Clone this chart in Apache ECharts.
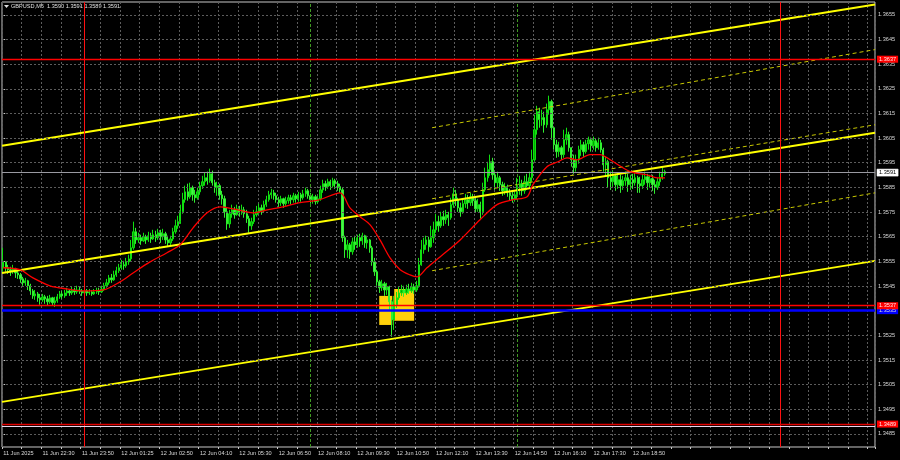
<!DOCTYPE html>
<html><head><meta charset="utf-8">
<script src="https://cdn.jsdelivr.net/npm/echarts@6/dist/echarts.min.js"></script>
<style>html,body{margin:0;padding:0;background:#000}#c{width:900px;height:460px}</style>
</head><body><div id="c"></div>
<script>
// ---------- data ----------
const barCount = 355;
const firstOpen = 1.35524;
const closes = [
1.35548,1.35524,1.35516,1.35508,1.35520,1.35503,1.35495,1.35479,1.35463,1.35471,
1.35451,1.35430,1.35410,1.35418,1.35402,1.35394,1.35406,1.35398,1.35386,1.35402,
1.35382,1.35390,1.35406,1.35418,1.35410,1.35422,1.35430,1.35422,1.35434,1.35426,
1.35434,1.35430,1.35422,1.35430,1.35422,1.35426,1.35418,1.35426,1.35430,1.35426,
1.35438,1.35451,1.35463,1.35483,1.35475,1.35495,1.35512,1.35524,1.35536,1.35532,
1.35548,1.35560,1.35605,1.35670,1.35637,1.35646,1.35633,1.35650,1.35637,1.35654,
1.35641,1.35658,1.35646,1.35666,1.35650,1.35662,1.35637,1.35625,1.35641,1.35670,
1.35694,1.35711,1.35751,1.35800,1.35832,1.35812,1.35849,1.35820,1.35808,1.35832,
1.35857,1.35873,1.35889,1.35877,1.35905,1.35869,1.35849,1.35857,1.35820,1.35804,
1.35751,1.35702,1.35743,1.35759,1.35739,1.35763,1.35747,1.35759,1.35743,1.35723,
1.35694,1.35711,1.35739,1.35751,1.35767,1.35755,1.35780,1.35800,1.35820,1.35828,
1.35816,1.35800,1.35788,1.35804,1.35784,1.35796,1.35808,1.35800,1.35816,1.35804,
1.35820,1.35808,1.35824,1.35836,1.35816,1.35800,1.35812,1.35792,1.35804,1.35840,
1.35865,1.35853,1.35873,1.35857,1.35877,1.35865,1.35853,1.35840,1.35646,1.35597,
1.35617,1.35589,1.35629,1.35617,1.35646,1.35633,1.35654,1.35625,1.35637,1.35605,
1.35548,1.35508,1.35467,1.35443,1.35459,1.35434,1.35447,1.35386,1.35313,1.35374,
1.35402,1.35422,1.35434,1.35422,1.35438,1.35430,1.35447,1.35434,1.35451,1.35536,
1.35597,1.35617,1.35637,1.35609,1.35646,1.35678,1.35711,1.35694,1.35731,1.35719,
1.35739,1.35727,1.35780,1.35824,1.35800,1.35767,1.35751,1.35784,1.35800,1.35788,
1.35812,1.35796,1.35763,1.35780,1.35751,1.35840,1.35889,1.35922,1.35954,1.35901,
1.35869,1.35889,1.35861,1.35836,1.35853,1.35828,1.35816,1.35800,1.35820,1.35849,
1.35865,1.35836,1.35873,1.35857,1.35889,1.35962,1.36084,1.36157,1.36125,1.36133,
1.36104,1.36165,1.36198,1.36092,1.36023,1.35995,1.36011,1.35983,1.36043,1.36064,
1.36011,1.35962,1.35930,1.35962,1.36003,1.36023,1.35995,1.36027,1.36043,1.36019,
1.36039,1.36011,1.36031,1.36003,1.35942,1.35954,1.35889,1.35873,1.35897,1.35861,
1.35881,1.35857,1.35877,1.35889,1.35861,1.35881,1.35869,1.35889,1.35865,1.35857,
1.35881,1.35893,1.35869,1.35885,1.35861,1.35849,1.35873,1.35889,1.35905,1.35914];
const highs = [
1.35605,1.35548,1.35536,1.35528,1.35536,1.35524,1.35516,1.35503,1.35487,1.35483,
1.35475,1.35459,1.35438,1.35434,1.35426,1.35418,1.35418,1.35414,1.35410,1.35414,
1.35406,1.35406,1.35418,1.35430,1.35430,1.35434,1.35443,1.35438,1.35447,1.35443,
1.35451,1.35447,1.35438,1.35443,1.35438,1.35438,1.35434,1.35438,1.35443,1.35443,
1.35451,1.35463,1.35479,1.35495,1.35499,1.35512,1.35528,1.35540,1.35556,1.35552,
1.35564,1.35577,1.35637,1.35711,1.35686,1.35666,1.35658,1.35666,1.35658,1.35670,
1.35666,1.35678,1.35674,1.35682,1.35678,1.35682,1.35670,1.35654,1.35654,1.35686,
1.35719,1.35735,1.35780,1.35828,1.35857,1.35865,1.35869,1.35857,1.35840,1.35849,
1.35873,1.35897,1.35909,1.35914,1.35926,1.35918,1.35881,1.35873,1.35865,1.35836,
1.35816,1.35767,1.35759,1.35780,1.35771,1.35780,1.35775,1.35780,1.35771,1.35759,
1.35735,1.35727,1.35759,1.35775,1.35784,1.35780,1.35796,1.35816,1.35836,1.35844,
1.35840,1.35828,1.35812,1.35816,1.35808,1.35812,1.35820,1.35820,1.35828,1.35824,
1.35832,1.35828,1.35840,1.35849,1.35844,1.35828,1.35824,1.35820,1.35816,1.35857,
1.35881,1.35877,1.35885,1.35881,1.35889,1.35885,1.35877,1.35865,1.35849,1.35654,
1.35637,1.35625,1.35646,1.35654,1.35658,1.35662,1.35666,1.35658,1.35654,1.35641,
1.35613,1.35564,1.35516,1.35475,1.35475,1.35467,1.35463,1.35451,1.35394,1.35410,
1.35426,1.35447,1.35455,1.35451,1.35455,1.35459,1.35463,1.35459,1.35471,1.35564,
1.35637,1.35646,1.35654,1.35650,1.35694,1.35711,1.35743,1.35735,1.35751,1.35755,
1.35759,1.35751,1.35808,1.35849,1.35840,1.35808,1.35788,1.35804,1.35824,1.35820,
1.35828,1.35824,1.35808,1.35804,1.35792,1.35869,1.35930,1.35954,1.35983,1.35970,
1.35914,1.35914,1.35897,1.35873,1.35869,1.35861,1.35844,1.35832,1.35836,1.35889,
1.35897,1.35881,1.35897,1.35905,1.35914,1.36003,1.36145,1.36181,1.36173,1.36165,
1.36157,1.36190,1.36222,1.36206,1.36092,1.36043,1.36035,1.36019,1.36084,1.36092,
1.36076,1.36003,1.35983,1.35983,1.36019,1.36043,1.36035,1.36043,1.36056,1.36052,
1.36056,1.36047,1.36052,1.36043,1.36011,1.35974,1.35962,1.35914,1.35918,1.35905,
1.35909,1.35901,1.35897,1.35914,1.35905,1.35901,1.35905,1.35914,1.35897,1.35893,
1.35905,1.35914,1.35905,1.35901,1.35901,1.35881,1.35889,1.35914,1.35930,1.35922];
const lows = [
1.35508,1.35508,1.35499,1.35491,1.35499,1.35483,1.35479,1.35463,1.35451,1.35451,
1.35434,1.35414,1.35398,1.35394,1.35386,1.35374,1.35386,1.35378,1.35369,1.35378,
1.35369,1.35365,1.35382,1.35398,1.35398,1.35402,1.35410,1.35410,1.35414,1.35414,
1.35418,1.35418,1.35410,1.35414,1.35410,1.35414,1.35410,1.35414,1.35418,1.35414,
1.35422,1.35430,1.35443,1.35455,1.35463,1.35471,1.35487,1.35503,1.35516,1.35516,
1.35524,1.35536,1.35548,1.35597,1.35621,1.35625,1.35617,1.35629,1.35621,1.35629,
1.35625,1.35637,1.35629,1.35637,1.35625,1.35637,1.35621,1.35609,1.35613,1.35633,
1.35662,1.35682,1.35702,1.35743,1.35788,1.35796,1.35804,1.35796,1.35788,1.35800,
1.35820,1.35844,1.35857,1.35861,1.35869,1.35857,1.35828,1.35816,1.35800,1.35780,
1.35727,1.35678,1.35686,1.35727,1.35723,1.35735,1.35731,1.35739,1.35727,1.35706,
1.35666,1.35678,1.35702,1.35731,1.35743,1.35739,1.35747,1.35771,1.35792,1.35804,
1.35800,1.35788,1.35771,1.35775,1.35767,1.35775,1.35784,1.35780,1.35788,1.35788,
1.35792,1.35792,1.35800,1.35812,1.35804,1.35784,1.35784,1.35780,1.35784,1.35796,
1.35828,1.35836,1.35844,1.35840,1.35849,1.35844,1.35836,1.35828,1.35629,1.35564,
1.35564,1.35560,1.35577,1.35597,1.35605,1.35609,1.35617,1.35605,1.35601,1.35585,
1.35532,1.35491,1.35451,1.35422,1.35430,1.35410,1.35414,1.35353,1.35244,1.35272,
1.35361,1.35394,1.35410,1.35406,1.35414,1.35418,1.35422,1.35418,1.35426,1.35443,
1.35532,1.35581,1.35597,1.35589,1.35605,1.35625,1.35666,1.35670,1.35686,1.35694,
1.35702,1.35694,1.35719,1.35767,1.35775,1.35751,1.35731,1.35743,1.35767,1.35763,
1.35775,1.35775,1.35747,1.35751,1.35723,1.35739,1.35832,1.35873,1.35897,1.35881,
1.35840,1.35849,1.35836,1.35816,1.35820,1.35812,1.35796,1.35788,1.35792,1.35800,
1.35820,1.35816,1.35824,1.35840,1.35844,1.35873,1.35954,1.36064,1.36092,1.36100,
1.36072,1.36092,1.36145,1.36043,1.36003,1.35970,1.35974,1.35962,1.35970,1.36023,
1.35995,1.35934,1.35905,1.35914,1.35946,1.35978,1.35974,1.35987,1.36003,1.35995,
1.36003,1.35995,1.36003,1.35991,1.35914,1.35893,1.35849,1.35840,1.35853,1.35836,
1.35844,1.35828,1.35840,1.35857,1.35832,1.35840,1.35844,1.35857,1.35828,1.35828,
1.35844,1.35861,1.35840,1.35849,1.35836,1.35824,1.35840,1.35857,1.35881,1.35897];

// moving average (read at sample bars)
const maBars = [0,6.8,12.1,19,25.9,32.5,40.6,47.5,52.8,59.7,66.6,71.9,77.2,82.9,88.2,93.5,101.6,107.3,113.8,120.7,
  128,137,141,145.1,149.2,153.2,157.3,161.4,165.4,168.3,172.3,177.6,185.8,193.9,200.8,207.3,213,215.4,221.1,225.6,
  229.3,233.3,238.6,242.7,246.8,254.9,261.8,265.9,269.1];
const maValues = [1.35524,1.35516,1.35483,1.35451,1.35438,1.35430,1.35434,1.35467,1.35503,1.35548,
  1.35585,1.35617,1.35686,1.35747,1.35771,1.35763,1.35747,1.35759,1.35771,1.35788,
  1.35798,1.35828,1.35767,1.35731,1.35698,1.35637,1.35564,1.35516,1.35495,1.35487,
  1.35524,1.35568,1.35637,1.35719,1.35780,1.35800,1.35812,1.35861,1.35934,1.35954,
  1.35970,1.35962,1.35983,1.35983,1.35962,1.35914,1.35901,1.35889,1.35889];

// x tick labels
const tickBars = [0,16,32,48,64,80,96,112,128,144,160,176,192,208,224,240,256];
const tickTexts = ['11 Jun 2025','11 Jun 22:30','11 Jun 23:50','12 Jun 01:25','12 Jun 02:50','12 Jun 04:10',
  '12 Jun 05:30','12 Jun 06:50','12 Jun 08:10','12 Jun 09:30','12 Jun 10:50','12 Jun 12:10','12 Jun 13:30',
  '12 Jun 14:50','12 Jun 16:10','12 Jun 17:30','12 Jun 18:50'];
// y tick labels
const priceTicks = [1.3485,1.3495,1.3505,1.3515,1.3525,1.3535,1.3545,1.3555,1.3565,1.3575,1.3585,1.3595,
  1.3605,1.3615,1.3625,1.3635,1.3645,1.3655];

// channel lines (bar, price)
const channelBars = [-0.5, 354.5];
const channelUpper = [1.36019, 1.36592];
const channelMiddle = [1.35503, 1.36072];
const channelLower = [1.34980, 1.35552];
const regBars = [174.4, 354.5];
const regUpper = [1.36092, 1.36409];
const regMiddle = [1.35804, 1.36104];
const regLower = [1.35512, 1.35828];

// horizontal levels
const redLevels = [1.3637, 1.3537, 1.3489];
const blueLevel = 1.3535;
const lilacLevel = 1.34881;
const bidLevel = 1.3591;
// vertical markers (bar index)
const redVerticals = [33, 316];
const greenVerticals = [125, 209];
// rectangles: [barFrom, barTo, priceLow, priceHigh]
const boxes = [[152.9, 158.2, 1.35292, 1.35410], [159.0, 167.1, 1.35309, 1.35438]];
const titleText = 'GBPUSD,M5  1.3590 1.3591 1.3589 1.3591';

// ---------- chart ----------
const N = barCount;
const cats = Array.from({length: N}, (_, i) => String(i));
const labelAt = {};
tickBars.forEach((b, k) => { labelAt[b] = tickTexts[k]; });
const candles = closes.map((c, i) => [i === 0 ? firstOpen : closes[i - 1], c, lows[i], highs[i]]);
const FS = 5.6;
const FF = 'Liberation Sans, Arial, sans-serif';

function seg(bars, vals, color, width, type, z) {
  return {type: 'line', xAxisIndex: 1, data: bars.map((b, k) => [b, vals[k]]), showSymbol: false, symbol: 'none',
    silent: true, z: z, lineStyle: {color: color, width: width, type: type}, clip: true};
}
function lvlLabel(txt, bg, fg, border) {
  return {show: true, position: 'end', formatter: txt, backgroundColor: bg, color: fg, fontSize: FS,
    fontFamily: FF, padding: [1, 2, 0, 2], distance: 2, borderColor: border || bg, borderWidth: border ? 0.5 : 0};
}

const chart = echarts.init(document.getElementById('c'));
chart.setOption({
  backgroundColor: '#000',
  animation: false,
  grid: {left: 2, right: 25, top: 2, bottom: 13, show: true, borderColor: '#c8c8c8', borderWidth: 1, backgroundColor: '#000'},
  xAxis: [{
    type: 'category', data: cats, boundaryGap: true,
    axisLine: {show: false},
    axisTick: {show: true, interval: (i) => i % 8 === 0, length: 2, lineStyle: {color: '#c8c8c8'}},
    axisLabel: {interval: (i) => labelAt[i] !== undefined, formatter: (v, i) => labelAt[i] || '', align: 'left',
      fontSize: FS, fontFamily: FF, color: '#d8d8d8', margin: 3},
    splitLine: {show: true, interval: (i) => i % 8 === 0, lineStyle: {color: '#5c5c5c', type: [2, 2], width: 1}}
  }, {type: 'value', min: -0.5, max: N - 0.5, show: false}],
  yAxis: {
    type: 'value', position: 'right', min: 1.34797, max: 1.36602, scale: true,
    axisLine: {show: false},
    axisTick: {show: true, customValues: priceTicks, length: 2, lineStyle: {color: '#c8c8c8'}},
    axisLabel: {customValues: priceTicks, color: '#d8d8d8', fontSize: FS, fontFamily: FF, margin: 3,
      formatter: (v) => v.toFixed(4)},
    splitLine: {show: false}
  },
  graphic: [
    {type: 'polygon', shape: {points: [[4, 5], [9, 5], [6.5, 8]]}, style: {fill: '#dddddd'}, silent: true},
    {type: 'text', left: 11, top: 3.2, style: {text: titleText, fill: '#e0e0e0', fontSize: FS, fontFamily: FF}, silent: true}
  ],
  series: [
    {type: 'line', xAxisIndex: 1, data: [], z: 0, silent: true,
      markLine: {symbol: ['none', 'none'], precision: 6, silent: true, animation: false, label: {show: false},
        lineStyle: {color: '#5c5c5c', type: [2, 2], width: 1}, data: priceTicks.map(v => ({yAxis: v}))}},
    {type: 'line', xAxisIndex: 1, data: [], z: 1, silent: true,
      markArea: {silent: true, animation: false, itemStyle: {color: '#ffd10a', opacity: 1},
        data: boxes.map(b => [{coord: [b[0], b[3]]}, {coord: [b[1], b[2]]}])}},
    {type: 'line', xAxisIndex: 1, data: [], z: 2, silent: true,
      markLine: {symbol: ['none', 'none'], precision: 6, silent: true, animation: false, label: {show: false},
        data: redVerticals.map(v => ({xAxis: v, lineStyle: {color: '#ff1010', width: 1, type: 'solid'}}))
          .concat(greenVerticals.map(v => ({xAxis: v, lineStyle: {color: '#3f9a22', width: 1, type: [3, 2]}})))}},
    {type: 'candlestick', xAxisIndex: 0, data: candles, z: 3, barWidth: '72%', silent: true,
      itemStyle: {color: '#00a800', color0: '#4cf04c', borderColor: '#10e010', borderColor0: '#30f030', borderWidth: 1}},
    seg(channelBars, channelUpper, '#ffff00', 2, 'solid', 4),
    seg(channelBars, channelMiddle, '#ffff00', 2, 'solid', 4),
    seg(channelBars, channelLower, '#ffff00', 2, 'solid', 4),
    seg(regBars, regUpper, '#c8c800', 1, [4, 3], 4),
    seg(regBars, regMiddle, '#c8c800', 1, [4, 3], 4),
    seg(regBars, regLower, '#c8c800', 1, [4, 3], 4),
    {type: 'line', xAxisIndex: 1, data: maBars.map((b, k) => [b, maValues[k]]), showSymbol: false, symbol: 'none',
      smooth: 0.3, silent: true, z: 5, lineStyle: {color: '#ff0000', width: 1.3}},
    {type: 'line', xAxisIndex: 1, data: [], z: 6, silent: true,
      markLine: {symbol: ['none', 'none'], precision: 6, silent: true, animation: false,
        data: [
          {yAxis: bidLevel, lineStyle: {color: '#9a9aa2', width: 1, type: 'solid'}, label: lvlLabel(bidLevel.toFixed(4), '#ffffff', '#000000', '#888888')},
          {yAxis: lilacLevel, lineStyle: {color: '#e8d8ee', width: 1, type: 'solid'}, label: {show: false}},
          {yAxis: blueLevel, lineStyle: {color: '#0000ff', width: 2.5, type: 'solid'}, label: lvlLabel(blueLevel.toFixed(4), '#0000ff', '#dddddd')},
          {yAxis: redLevels[0], lineStyle: {color: '#ff0000', width: 1.3, type: 'solid'}, label: lvlLabel(redLevels[0].toFixed(4), '#ff0000', '#ffe8e8')},
          {yAxis: redLevels[1], lineStyle: {color: '#ff0000', width: 1.3, type: 'solid'}, label: lvlLabel(redLevels[1].toFixed(4), '#ff0000', '#ffe8e8')},
          {yAxis: redLevels[2], lineStyle: {color: '#e00000', width: 1.3, type: 'solid'}, label: lvlLabel(redLevels[2].toFixed(4), '#ff0000', '#ffe8e8')}
        ]}}
  ]
});
</script>
</body></html>
